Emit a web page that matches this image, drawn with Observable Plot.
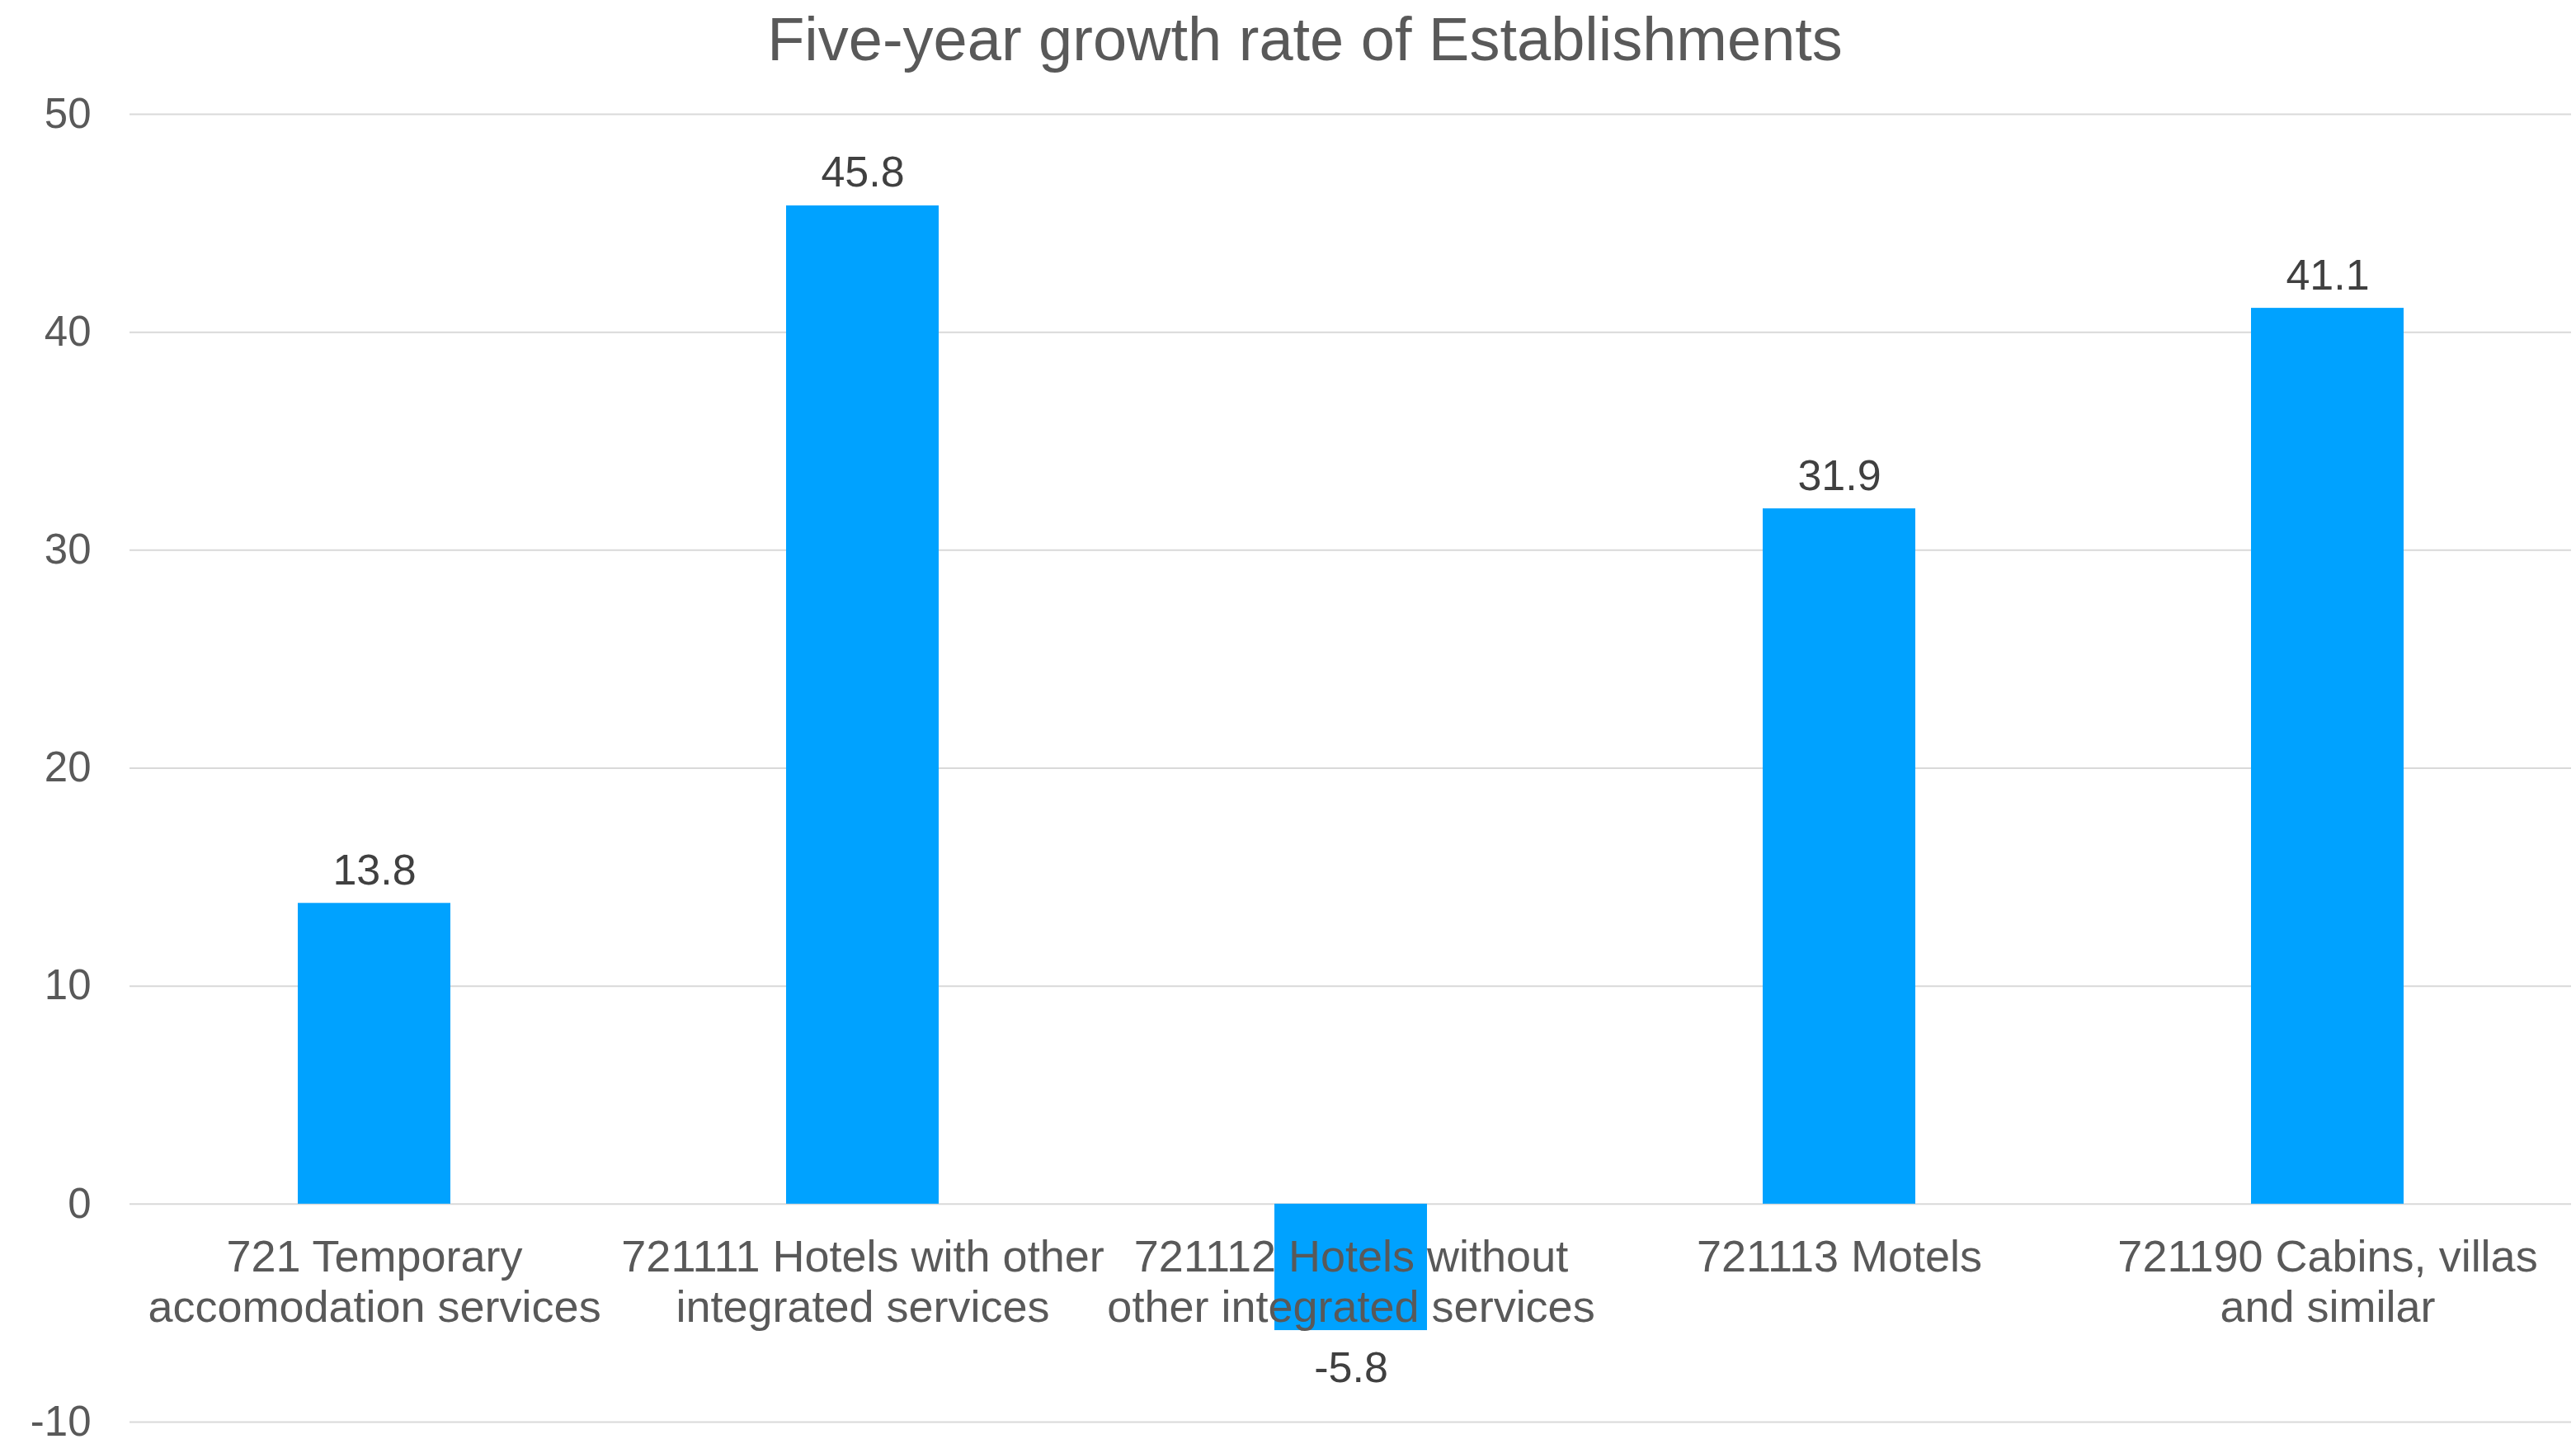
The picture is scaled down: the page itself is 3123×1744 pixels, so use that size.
<!DOCTYPE html>
<html>
<head>
<meta charset="utf-8">
<script src="https://cdn.jsdelivr.net/npm/d3@7"></script>
<script src="https://cdn.jsdelivr.net/npm/@observablehq/plot@0.6"></script>
<style>
  html, body { margin: 0; padding: 0; background: #ffffff; overflow: hidden; }
  #title {
    box-sizing: border-box;
    width: 3123px;
    height: 110px;
    padding-top: 11px;
    padding-left: 41px;
    text-align: center;
    font-family: "Liberation Sans", Arial, sans-serif;
    font-size: 74px;
    line-height: 74px;
    color: #595959;
    white-space: nowrap;
  }
</style>
</head>
<body>
<div id="title">Five-year growth rate of Establishments</div>
<div id="chart"></div>
<script>
// ---- data ----
const categories = [
  "721 Temporary accomodation services",
  "721111 Hotels with other integrated services",
  "721112 Hotels without other integrated services",
  "721113 Motels",
  "721190 Cabins, villas and similar"
];
const categoryLabels = [
  "721 Temporary\naccomodation services",
  "721111 Hotels with other\nintegrated services",
  "721112 Hotels without\nother integrated services",
  "721113 Motels",
  "721190 Cabins, villas\nand similar"
];
const values = [13.8, 45.8, -5.8, 31.9, 41.1];
const yTicks = [-10, 0, 10, 20, 30, 40, 50];

const data = categories.map((c, i) => ({category: c, label: categoryLabels[i], value: values[i]}));

const font = '"Liberation Sans", Arial, sans-serif';

const chart = Plot.plot({
  width: 3123,
  height: 1634,
  marginTop: 28,
  marginBottom: 21,
  marginLeft: 157,
  marginRight: 6,
  style: {fontFamily: font, fontSize: "51px", color: "#595959", background: "#ffffff", overflow: "visible"},
  x: {domain: categories, paddingInner: 0.6875, paddingOuter: 0.34375, axis: null},
  y: {domain: [-10, 50], label: null},
  marks: [
    Plot.ruleY(yTicks, {stroke: "#D9D9D9", strokeWidth: 2}),
    Plot.axisY(yTicks, {
      tickSize: 0, tickPadding: 47, label: null,
      tickFormat: d => String(d), fontSize: 51, fill: "#595959"
    }),
    Plot.barY(data, {x: "category", y: "value", fill: "#00A2FF"}),
    Plot.text(data.filter(d => d.value >= 0), {
      x: "category", y: "value", text: d => d.value.toFixed(1),
      lineAnchor: "bottom", dy: -23, fontSize: 52, fill: "#404040"
    }),
    Plot.text(data.filter(d => d.value < 0), {
      x: "category", y: "value", text: d => d.value.toFixed(1),
      lineAnchor: "top", dy: 26, fontSize: 52, fill: "#404040"
    }),
    Plot.text(data, {
      x: "category", y: () => 0, text: "label",
      lineAnchor: "top", lineHeight: 1.13, dy: 38, fontSize: 54, fill: "#595959"
    })
  ]
});
document.getElementById("chart").appendChild(chart);
</script>
</body>
</html>
